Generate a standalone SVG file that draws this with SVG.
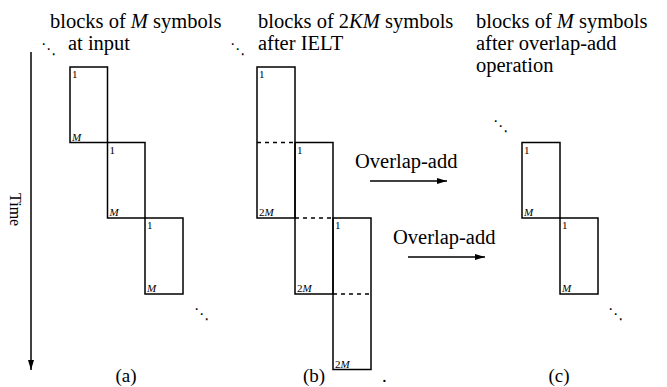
<svg xmlns="http://www.w3.org/2000/svg" width="667" height="387" viewBox="0 0 667 387">
<style>
  .blk { fill: none; stroke: #000; stroke-width: 1.5; }
  .dash { fill: none; stroke: #000; stroke-width: 1.5; stroke-dasharray: 4 4; }
  .con { fill: none; stroke: #000; stroke-width: 1.5; }
  .t { font-family: "Liberation Serif", "Times New Roman", serif; font-size: 20.5px; fill: #000; }
  .cap { font-family: "Liberation Serif", "Times New Roman", serif; font-size: 19px; fill: #000; }
  .s { font-family: "Liberation Serif", "Times New Roman", serif; font-size: 11px; fill: #000; }
  .it { font-style: italic; }
  .dd { font-family: "DejaVu Sans", sans-serif; font-size: 15px; fill: #000; }
</style>
<defs>
  <marker id="ah" viewBox="0 0 10 6" refX="10" refY="3" markerWidth="10" markerHeight="6" markerUnits="userSpaceOnUse" orient="auto">
    <path d="M0,0 L10,3 L0,6 Z" fill="#000"/>
  </marker>
</defs>
<rect width="667" height="387" fill="#fff"/>

<g id="titles">
  <text class="t" x="50" y="28">blocks of <tspan class="it">M</tspan> symbols</text>
  <text class="t" x="68" y="50">at input</text>
  <text class="t" x="258" y="28">blocks of 2<tspan class="it">KM</tspan> symbols</text>
  <text class="t" x="258" y="50">after IELT</text>
  <text class="t" x="476" y="28">blocks of <tspan class="it">M</tspan> symbols</text>
  <text class="t" x="476" y="50">after overlap-add</text>
  <text class="t" x="476" y="72">operation</text>
</g>

<g id="ellipses">
  <text class="dd" x="41" y="54">⋱</text>
  <text class="dd" x="230" y="54">⋱</text>
  <text class="dd" x="194" y="319">⋱</text>
  <text class="dd" x="493" y="131">⋱</text>
  <text class="dd" x="608" y="319">⋱</text>
</g>

<g id="time-axis">
  <text class="t" style="font-size:16px" transform="translate(10,193) rotate(90)">Time</text>
</g>

<g id="a1"><rect class="blk" x="70" y="67" width="37.5" height="75.5"/><text class="s" x="72" y="78">1</text><text class="s it" x="72" y="140.5">M</text></g>
<g id="a2"><rect class="blk" x="107.5" y="142.5" width="37.5" height="75.5"/><text class="s" x="109.5" y="153.5">1</text><text class="s it" x="109.5" y="216">M</text></g>
<g id="a3"><rect class="blk" x="145" y="218" width="38" height="76"/><text class="s" x="147" y="229">1</text><text class="s it" x="147" y="292">M</text></g>

<g id="b1"><rect class="blk" x="257" y="67" width="38" height="151"/><line class="dash" x1="257" y1="142.5" x2="295" y2="142.5"/><text class="s" x="259" y="78">1</text><text class="s" x="259" y="216">2<tspan class="it">M</tspan></text></g>
<g id="b2"><rect class="blk" x="295" y="142.5" width="38" height="151.5"/><line class="dash" x1="295" y1="218" x2="333" y2="218"/><text class="s" x="297" y="153.5">1</text><text class="s" x="297" y="292">2<tspan class="it">M</tspan></text></g>
<g id="b3"><rect class="blk" x="333" y="218" width="38" height="151.5"/><line class="dash" x1="333" y1="294" x2="371" y2="294"/><text class="s" x="335" y="229">1</text><text class="s" x="335" y="367.5">2<tspan class="it">M</tspan></text></g>

<g id="c1"><rect class="blk" x="522" y="142.5" width="38" height="75.5"/><text class="s" x="524" y="153.5">1</text><text class="s it" x="524" y="216">M</text></g>
<g id="c2"><rect class="blk" x="560" y="218" width="38" height="76"/><text class="s" x="562" y="229">1</text><text class="s it" x="562" y="292">M</text></g>

<g id="overlap-labels">
  <text class="t" x="355" y="168">Overlap-add</text>
  <text class="t" x="393" y="244">Overlap-add</text>
</g>

<g id="captions">
  <text class="cap" x="126" y="382" text-anchor="middle">(a)</text>
  <text class="cap" x="314" y="382" text-anchor="middle">(b)</text>
  <text class="cap" x="559" y="382" text-anchor="middle">(c)</text>
  <text class="cap" x="382" y="382">.</text>
</g>

<g id="connectors">
  <line class="con" x1="31" y1="52" x2="31" y2="370" marker-end="url(#ah)"/>
  <line class="con" x1="370" y1="181" x2="447" y2="181" marker-end="url(#ah)"/>
  <line class="con" x1="408" y1="257" x2="485" y2="257" marker-end="url(#ah)"/>
</g>
</svg>
